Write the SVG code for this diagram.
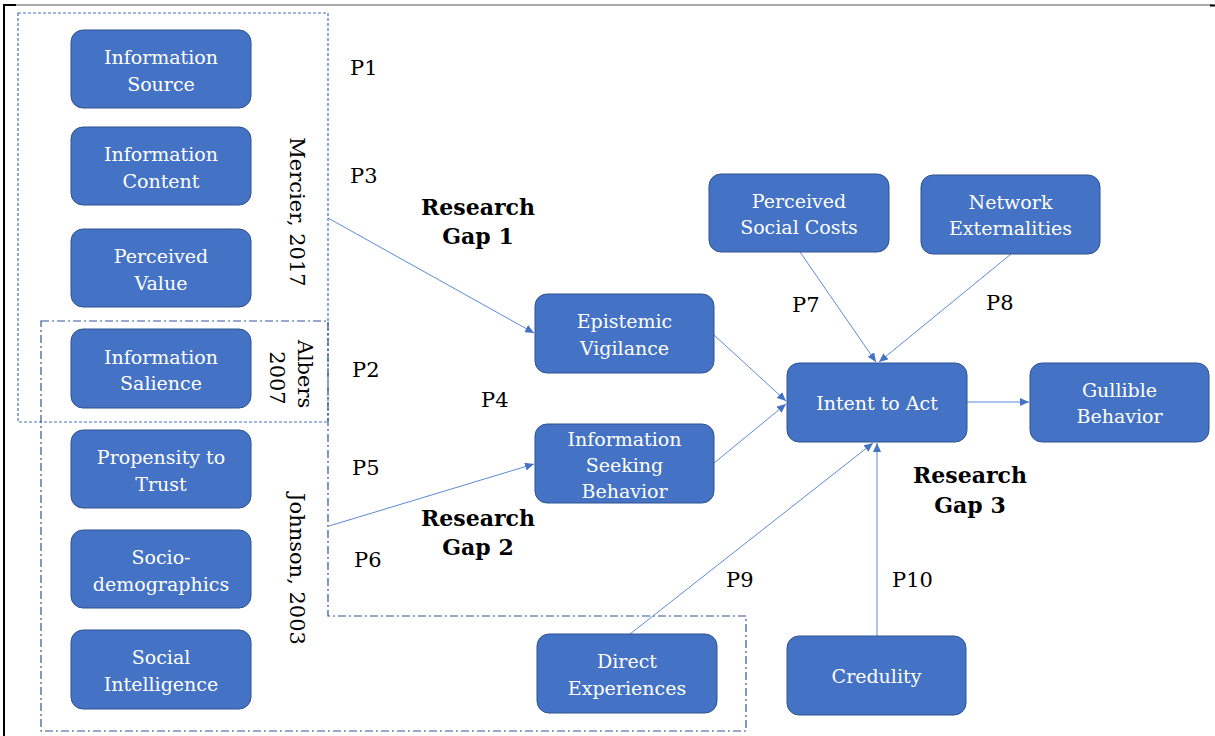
<svg xmlns="http://www.w3.org/2000/svg" width="1215" height="736" viewBox="0 0 1215 736">
<style>
.n{fill:#4472C4;stroke:#2F528F;stroke-width:1}
.t{font-family:"DejaVu Serif","Liberation Serif",serif;font-size:19px;fill:#ffffff;text-anchor:middle}
.p{font-family:"DejaVu Serif","Liberation Serif",serif;font-size:21px;fill:#000000}
.g{font-family:"DejaVu Serif","Liberation Serif",serif;font-size:22px;font-weight:bold;fill:#000000;text-anchor:middle}
.r{font-family:"DejaVu Serif","Liberation Serif",serif;font-size:21px;fill:#000000;text-anchor:middle}
.c{stroke:#5B8BD6;stroke-width:1;fill:none}
.dot{stroke:#4472C4;stroke-width:1.2;fill:none;stroke-dasharray:3 2}
.dd{stroke:#2F5597;stroke-width:1.2;fill:none;stroke-dasharray:8 3 2 3}
</style>
<defs>
<marker id="ah" markerUnits="userSpaceOnUse" markerWidth="10" markerHeight="8" refX="9" refY="4" orient="auto">
<path d="M0,0 L9,4 L0,8 z" fill="#4472C4"/>
</marker>
</defs>
<rect width="1215" height="736" fill="#ffffff"/>
<g id="frame">
<line x1="3" y1="5" x2="1213" y2="5" stroke="#555555" stroke-width="1"/>
<line x1="3" y1="5" x2="16" y2="5" stroke="#000000" stroke-width="2"/>
<line x1="1210" y1="5.5" x2="1215" y2="5.5" stroke="#000000" stroke-width="2"/>
<line x1="4" y1="5" x2="4" y2="736" stroke="#000000" stroke-width="2"/>
</g>
<g id="groups">
<rect class="dot" x="18" y="13" width="310" height="409"/>
<path class="dd" d="M41,321 L328,321 L328,616 L746,616 L746,731 L41,731 Z"/>
<text class="r" transform="translate(290,212) rotate(90)">Mercier, 2017</text>
<text class="r" transform="translate(298,374) rotate(90)">Albers</text>
<text class="r" transform="translate(270,378) rotate(90)">2007</text>
<text class="r" transform="translate(290,569) rotate(90)">Johnson, 2003</text>
</g>
<g id="connectors">
<line class="c" x1="328" y1="218" x2="534" y2="333" marker-end="url(#ah)"/>
<line class="c" x1="329" y1="526" x2="534" y2="464" marker-end="url(#ah)"/>
<line class="c" x1="714" y1="335" x2="786" y2="401" marker-end="url(#ah)"/>
<line class="c" x1="714" y1="463" x2="786" y2="404" marker-end="url(#ah)"/>
<line class="c" x1="800" y1="252" x2="876" y2="362" marker-end="url(#ah)"/>
<line class="c" x1="1011" y1="254" x2="879" y2="362" marker-end="url(#ah)"/>
<line class="c" x1="967" y1="402" x2="1029" y2="402" marker-end="url(#ah)"/>
<line class="c" x1="877" y1="636" x2="877" y2="443" marker-end="url(#ah)"/>
<line class="c" x1="630" y1="634" x2="873" y2="443" marker-end="url(#ah)"/>
</g>
<g id="labels">
<text class="p" x="350" y="75">P1</text>
<text class="p" x="350" y="183">P3</text>
<text class="p" x="352" y="377">P2</text>
<text class="p" x="481" y="407">P4</text>
<text class="p" x="352" y="475">P5</text>
<text class="p" x="354" y="567">P6</text>
<text class="p" x="792" y="312">P7</text>
<text class="p" x="986" y="310">P8</text>
<text class="p" x="726" y="587">P9</text>
<text class="p" x="892" y="587">P10</text>
<text class="g" x="478" y="215">Research</text>
<text class="g" x="478" y="244">Gap 1</text>
<text class="g" x="478" y="526">Research</text>
<text class="g" x="478" y="555">Gap 2</text>
<text class="g" x="970" y="483">Research</text>
<text class="g" x="970" y="513">Gap 3</text>
</g>
<g id="n-source"><rect class="n" x="71" y="30" width="180" height="78" rx="12"/><text class="t" x="161" y="64">Information</text><text class="t" x="161" y="91">Source</text></g>
<g id="n-content"><rect class="n" x="71" y="127" width="180" height="78" rx="12"/><text class="t" x="161" y="161">Information</text><text class="t" x="161" y="188">Content</text></g>
<g id="n-value"><rect class="n" x="71" y="229" width="180" height="78" rx="12"/><text class="t" x="161" y="263">Perceived</text><text class="t" x="161" y="290">Value</text></g>
<g id="n-salience"><rect class="n" x="71" y="329" width="180" height="79" rx="12"/><text class="t" x="161" y="364">Information</text><text class="t" x="161" y="390">Salience</text></g>
<g id="n-propensity"><rect class="n" x="71" y="430" width="180" height="78" rx="12"/><text class="t" x="161" y="464">Propensity to</text><text class="t" x="161" y="491">Trust</text></g>
<g id="n-socio"><rect class="n" x="71" y="530" width="180" height="78" rx="12"/><text class="t" x="161" y="564">Socio-</text><text class="t" x="161" y="591">demographics</text></g>
<g id="n-social"><rect class="n" x="71" y="630" width="180" height="79" rx="12"/><text class="t" x="161" y="664">Social</text><text class="t" x="161" y="691">Intelligence</text></g>
<g id="n-epistemic"><rect class="n" x="535" y="294" width="179" height="79" rx="12"/><text class="t" x="624.5" y="328">Epistemic</text><text class="t" x="624.5" y="355">Vigilance</text></g>
<g id="n-seeking"><rect class="n" x="535" y="424" width="179" height="79" rx="12"/><text class="t" x="624.5" y="446">Information</text><text class="t" x="624.5" y="472">Seeking</text><text class="t" x="624.5" y="498">Behavior</text></g>
<g id="n-direct"><rect class="n" x="537" y="634" width="180" height="79" rx="12"/><text class="t" x="627" y="668">Direct</text><text class="t" x="627" y="695">Experiences</text></g>
<g id="n-costs"><rect class="n" x="709" y="174" width="180" height="78" rx="12"/><text class="t" x="799" y="208">Perceived</text><text class="t" x="799" y="234">Social Costs</text></g>
<g id="n-network"><rect class="n" x="921" y="175" width="179" height="79" rx="12"/><text class="t" x="1010.5" y="209">Network</text><text class="t" x="1010.5" y="235">Externalities</text></g>
<g id="n-intent"><rect class="n" x="787" y="363" width="180" height="79" rx="12"/><text class="t" x="877" y="410">Intent to Act</text></g>
<g id="n-gullible"><rect class="n" x="1030" y="363" width="179" height="79" rx="12"/><text class="t" x="1119.5" y="397">Gullible</text><text class="t" x="1119.5" y="423">Behavior</text></g>
<g id="n-credulity"><rect class="n" x="787" y="636" width="179" height="79" rx="12"/><text class="t" x="876.5" y="683">Credulity</text></g>
</svg>
